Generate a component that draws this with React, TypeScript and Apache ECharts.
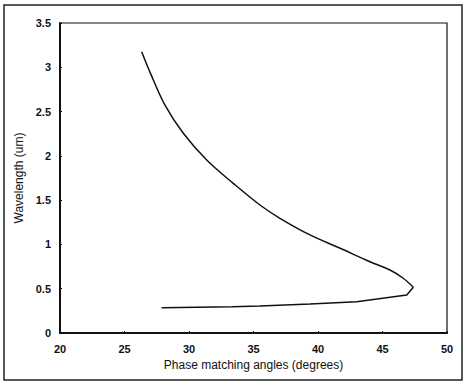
import React, { useEffect, useRef } from "react";
import * as echarts from "echarts";

// Upper branch (smooth) ends at the turning point; lower branch starts there.
const upperAngles = [26.33, 27.05, 28.15, 29.56, 31.37, 33.43, 35.5, 37.05, 39.38, 41.71, 44.03, 45.58, 46.61, 47.39];
const upperWavelengths = [3.176, 2.92, 2.57, 2.255, 1.953, 1.69, 1.445, 1.295, 1.107, 0.957, 0.805, 0.711, 0.618, 0.516];
const lowerAngles = [47.39, 46.88, 43.0, 39.38, 35.5, 33.33, 27.88];
const lowerWavelengths = [0.516, 0.429, 0.353, 0.327, 0.305, 0.297, 0.286];
const xTitle = "Phase matching angles (degrees)";
const yTitle = "Wavelength (um)";

export default function App() {
  const ref = useRef<HTMLDivElement>(null);
  useEffect(() => {
    if (!ref.current) return;
    const chart = echarts.init(ref.current, null, { renderer: "svg" });
    const font = "'Liberation Sans', Arial, sans-serif";
    const line = { color: "#111", width: 1.5 };
    chart.setOption({
      animation: false,
      backgroundColor: "#fff",
      grid: { left: 60, top: 23, width: 387, height: 310, show: true, borderColor: "#111", borderWidth: 1.2, backgroundColor: "transparent" },
      xAxis: {
        type: "value", min: 20, max: 50, interval: 5,
        name: xTitle, nameLocation: "middle", nameGap: 25,
        nameTextStyle: { color: "#111", fontSize: 12, fontFamily: font },
        axisLine: { show: true, lineStyle: { color: "#111", width: 2 } },
        axisTick: { show: true, inside: true, length: 2, lineStyle: { color: "#111" } },
        axisLabel: { color: "#111", fontSize: 11, fontFamily: font, fontWeight: "bold", margin: 10 },
        splitLine: { show: false },
      },
      yAxis: {
        type: "value", min: 0, max: 3.5, interval: 0.5,
        name: yTitle, nameLocation: "middle", nameGap: 33,
        nameTextStyle: { color: "#111", fontSize: 12, fontFamily: font },
        axisLine: { show: true, lineStyle: { color: "#111", width: 2 } },
        axisTick: { show: true, inside: true, length: 2, lineStyle: { color: "#111" } },
        axisLabel: { color: "#111", fontSize: 11, fontFamily: font, fontWeight: "bold", margin: 9 },
        splitLine: { show: false },
      },
      graphic: [
        { type: "rect", shape: { x: 4, y: 5, width: 458, height: 375 }, style: { fill: "none", stroke: "#222", lineWidth: 1.5 }, silent: true },
      ],
      series: [
        {
          type: "line",
          data: upperAngles.map((a, i) => [a, upperWavelengths[i]]),
          showSymbol: false,
          smooth: 0.35,
          lineStyle: line,
        },
        {
          type: "line",
          data: lowerAngles.map((a, i) => [a, lowerWavelengths[i]]),
          showSymbol: false,
          smooth: false,
          lineStyle: line,
        },
      ],
    });
    return () => chart.dispose();
  }, []);
  return <div ref={ref} style={{ position: "fixed", left: 0, top: 0, width: 464, height: 383 }} />;
}
